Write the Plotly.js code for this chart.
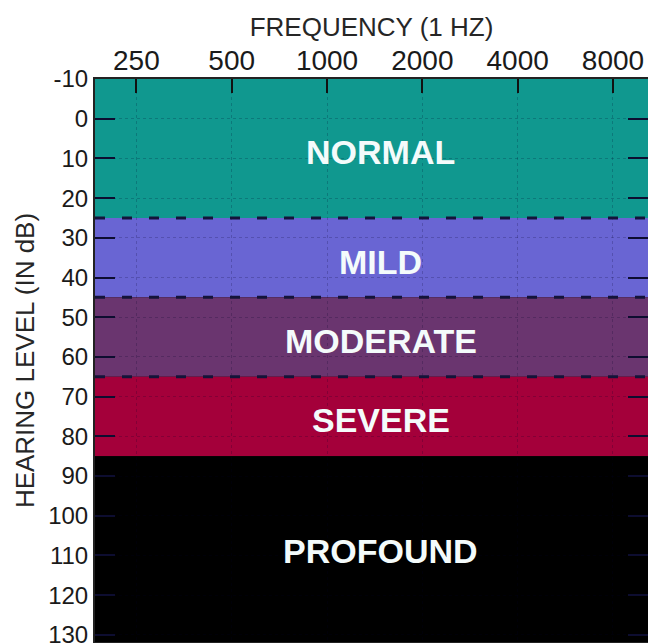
<!DOCTYPE html>
<html>
<head>
<meta charset="utf-8">
<script src="https://cdn.plot.ly/plotly-3.0.1.min.js"></script>
<style>html,body{margin:0;padding:0;background:#fff;}#chart{width:648px;height:643px;}</style>
</head>
<body>
<div id="chart"></div>
<script>
// Frequencies (Hz) shown on the top axis
const freqTicks = [250, 500, 1000, 2000, 4000, 8000];
const freqLabels = ["250", "500", "1000", "2000", "4000", "8000"];
// Hearing level ticks (dB)
const dbTicks = [-10, 0, 10, 20, 30, 40, 50, 60, 70, 80, 90, 100, 110, 120, 130];
const dbLabels = ["-10", "0", "10", "20", "30", "40", "50", "60", "70", "80", "90", "100", "110", "120", "130"];
// Hearing-loss bands
const bandNames = ["NORMAL", "MILD", "MODERATE", "SEVERE", "PROFOUND"];
const bandTop = [-10, 25, 45, 65, 85];
const bandBottom = [25, 45, 65, 85, 132];
const bandColors = ["#10988f", "#6965d3", "#6a356f", "#a4003a", "#000000"];
const bandLabelDb = [8.5, 36, 56, 76, 109];
const dashedBoundaries = [25, 45, 65];

const xRange = [Math.log10(185), Math.log10(10320)];
const yRange = [131.8, -10];

const shapes = [];
bandNames.forEach((n, i) => {
  shapes.push({type: "rect", layer: "below", xref: "paper", yref: "y",
    x0: 0, x1: 1, y0: bandTop[i], y1: bandBottom[i],
    fillcolor: bandColors[i], line: {width: 0}});
});
dashedBoundaries.forEach(v => {
  shapes.push({type: "line", layer: "above", xref: "paper", yref: "y",
    x0: 0, x1: 1, y0: v, y1: v,
    line: {color: "#14143a", width: 3, dash: "10px,17px"}});
});

const annotations = bandNames.map((n, i) => ({
  x: Math.log10(1480), y: bandLabelDb[i], xref: "x", yref: "y",
  text: n, showarrow: false,
  font: {family: "Liberation Sans, Arial, sans-serif", size: 34, color: "#f4fbfb", weight: "bold"}
}));

const traces = [{
  x: freqTicks, y: freqTicks.map(() => null), type: "scatter", mode: "markers",
  showlegend: false, hoverinfo: "skip"
}];

const layout = {
  width: 648, height: 643,
  margin: {l: 95, r: 0, t: 79, b: 1, pad: 0},
  paper_bgcolor: "#ffffff", plot_bgcolor: "#000000",
  showlegend: false, hovermode: false,
  font: {family: "Liberation Sans, Arial, sans-serif", color: "#1a1a1a"},
  xaxis: {
    type: "log", side: "top", range: xRange,
    tickmode: "array", tickvals: freqTicks, ticktext: freqLabels,
    tickfont: {size: 28, color: "#1a1a1a"},
    ticklabelstandoff: -4,
    ticks: "inside", ticklen: 14, tickwidth: 2, tickcolor: "#111",
    showline: true, linecolor: "#222", linewidth: 2, mirror: true,
    showgrid: true, gridcolor: "rgba(0,0,40,0.2)", griddash: "dot", gridwidth: 1,
    zeroline: false, fixedrange: true,
    title: {text: "FREQUENCY (1 HZ)", font: {size: 26, color: "#262626"}, standoff: 1}
  },
  yaxis: {
    range: yRange, tickmode: "array", tickvals: dbTicks, ticktext: dbLabels,
    tickfont: {size: 24, color: "#1a1a1a"},
    ticklabeloverflow: "allow",
    ticks: "inside", ticklen: 20, tickwidth: 2, tickcolor: "#0d0d30",
    showline: true, linecolor: "#222", linewidth: 2, mirror: "ticks",
    showgrid: true, gridcolor: "rgba(0,0,40,0.2)", griddash: "dot", gridwidth: 1,
    zeroline: false, fixedrange: true,
    title: {text: "HEARING LEVEL (IN dB)", font: {size: 26, color: "#262626"}, standoff: 6}
  },
  shapes: shapes,
  annotations: annotations
};

Plotly.newPlot("chart", traces, layout, {displayModeBar: false, staticPlot: true});
</script>
</body>
</html>
